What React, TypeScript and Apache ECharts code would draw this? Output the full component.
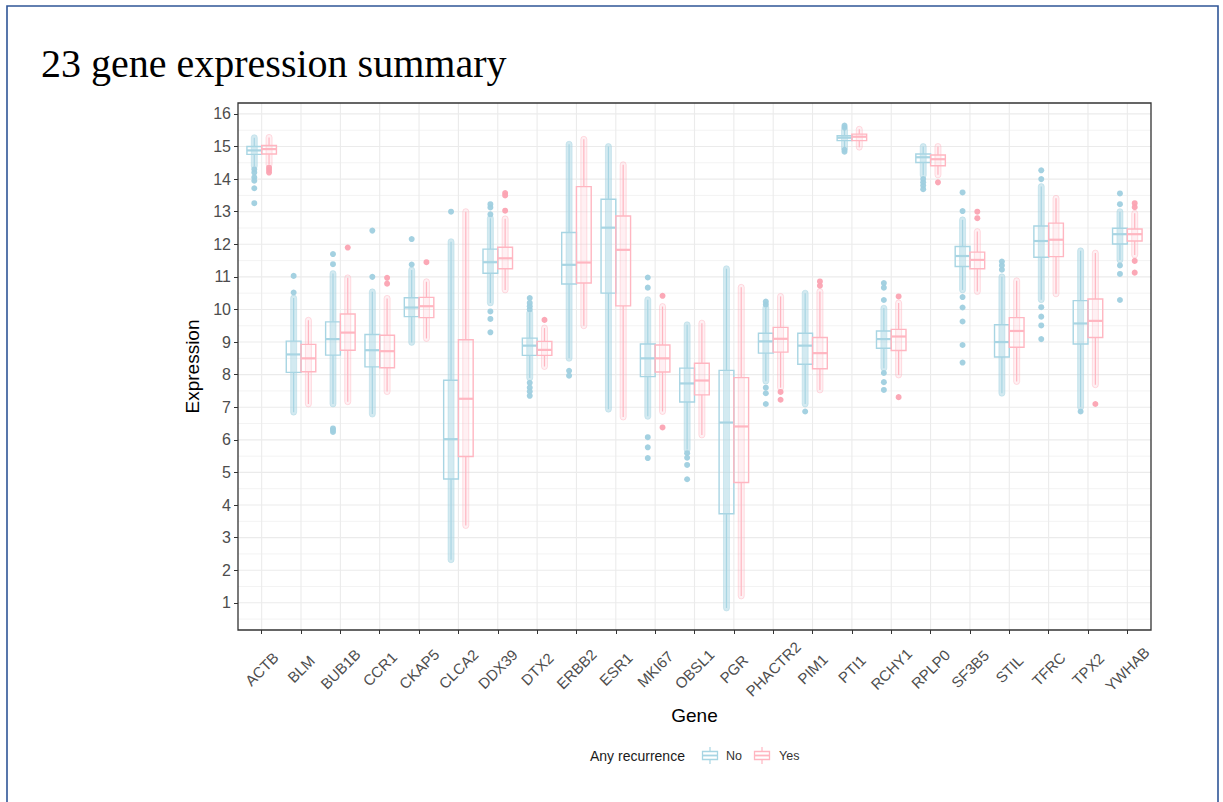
import React, { useEffect, useRef } from "react";
import * as echarts from "echarts";

const genes = ["ACTB","BLM","BUB1B","CCR1","CKAP5","CLCA2","DDX39","DTX2","ERBB2","ESR1","MKI67","OBSL1","PGR","PHACTR2","PIM1","PTI1","RCHY1","RPLP0","SF3B5","STIL","TFRC","TPX2","YWHAB"];

const yTicks = [1,2,3,4,5,6,7,8,9,10,11,12,13,14,15,16];
const yMinor = [0.5,1.5,2.5,3.5,4.5,5.5,6.5,7.5,8.5,9.5,10.5,11.5,12.5,13.5,14.5,15.5];

// [lower whisker, Q1, median, Q3, upper whisker]
const noStats = [
  [14.40,14.76,14.88,15.00,15.27],
  [6.85,8.07,8.62,9.03,10.35],
  [7.10,8.60,9.09,9.62,11.10],
  [6.79,8.24,8.75,9.23,10.54],
  [8.99,9.78,10.06,10.36,11.21],
  [2.32,4.80,6.02,7.83,12.08],
  [10.20,11.11,11.45,11.85,12.80],
  [7.90,8.59,8.89,9.12,9.90],
  [8.50,10.78,11.37,12.36,15.07],
  [6.94,10.50,12.51,13.38,15.00],
  [6.72,7.94,8.50,8.94,10.30],
  [5.70,7.16,7.73,8.20,9.53],
  [0.84,3.73,6.53,8.13,11.25],
  [7.80,8.66,9.02,9.27,10.05],
  [7.10,8.32,8.89,9.27,10.50],
  [14.95,15.18,15.27,15.33,15.52],
  [8.20,8.81,9.09,9.34,10.04],
  [14.12,14.51,14.67,14.77,15.00],
  [10.60,11.32,11.64,11.93,12.75],
  [7.43,8.54,9.00,9.53,11.00],
  [10.30,11.60,12.10,12.56,13.77],
  [7.00,8.94,9.57,10.27,11.80],
  [11.52,12.01,12.31,12.49,13.00],
];

const yesStats = [
  [14.45,14.77,14.92,15.03,15.28],
  [7.10,8.09,8.50,8.93,9.67],
  [7.17,8.75,9.29,9.86,10.97],
  [7.48,8.21,8.72,9.21,10.34],
  [9.11,9.75,10.10,10.37,10.85],
  [3.37,5.49,7.26,9.07,13.00],
  [10.60,11.25,11.57,11.91,12.78],
  [8.25,8.59,8.76,9.02,9.43],
  [9.50,10.81,11.44,13.77,15.22],
  [6.70,10.11,11.83,12.87,14.44],
  [6.87,8.08,8.50,8.91,10.09],
  [6.15,7.38,7.82,8.35,9.58],
  [1.21,4.69,6.41,7.91,10.68],
  [7.60,8.69,9.10,9.45,10.40],
  [7.53,8.18,8.66,9.14,10.55],
  [14.98,15.18,15.30,15.38,15.53],
  [7.99,8.74,9.17,9.39,10.20],
  [14.13,14.41,14.61,14.74,15.00],
  [10.55,11.25,11.52,11.76,12.39],
  [7.79,8.84,9.34,9.75,10.88],
  [10.48,11.62,12.14,12.65,13.41],
  [7.69,9.14,9.65,10.32,11.73],
  [11.67,12.10,12.31,12.47,12.95],
];

const noOutliers = [
  [14.3,14.2,14.05,13.95,13.72,13.26],
  [10.52,11.03],
  [11.39,11.7,6.35,6.3,6.24],
  [11.0,12.42],
  [11.38,12.16],
  [13.0],
  [12.92,13.13,13.23,9.94,9.71,9.3],
  [10.0,10.1,10.2,10.35,7.75,7.6,7.48,7.35],
  [8.12,7.97],
  [],
  [10.67,10.98,6.08,5.77,5.44],
  [5.59,5.45,5.23,4.79],
  [],
  [10.15,10.24,7.6,7.43,7.1],
  [6.87],
  [15.58,15.64,14.9,14.84],
  [10.29,10.67,10.81,8.05,7.77,7.53],
  [14.0,13.9,13.8,13.69],
  [13.02,13.59,10.38,10.06,9.63,8.91,8.37],
  [11.22,11.35,11.47],
  [14.0,14.27,10.07,9.78,9.51,9.09],
  [6.87],
  [13.23,13.56,11.35,11.09,10.29],
];

const yesOutliers = [
  [14.35,14.28,14.2],
  [],
  [11.9],
  [10.79,10.97],
  [11.45],
  [],
  [13.03,13.5,13.57],
  [9.68],
  [],
  [],
  [10.42,6.38],
  [],
  [],
  [7.47,7.23],
  [10.73,10.86],
  [],
  [10.4,7.31],
  [13.9],
  [12.8,13.0],
  [],
  [],
  [7.1],
  [13.14,13.26,11.49,11.13],
];

const NO_COLOR = "#a8d5e3";
const YES_COLOR = "#ffb6c1";
const NO_DOT = "#9fcfdf";
const YES_DOT = "#fba3b2";

const DODGE = 0.1875;
const BOX_W = 0.375;

function boxSeries(name: string, stats: number[][], offset: number, color: string, colFill: number, colStroke: number) {
  return {
    type: "custom",
    name,
    z: 3,
    clip: false,
    data: stats.map((s, i) => [i, ...s]),
    encode: { x: 0, y: [1, 2, 3, 4, 5] },
    renderItem: (params: any, api: any) => {
      const i = api.value(0);
      const bw = api.size([1, 0])[0];
      const pLow = api.coord([i, api.value(1)]);
      const yQ1 = api.coord([i, api.value(2)])[1];
      const yMed = api.coord([i, api.value(3)])[1];
      const yQ3 = api.coord([i, api.value(4)])[1];
      const yHigh = api.coord([i, api.value(5)])[1];
      const yLow = pLow[1];
      const cx = pLow[0] + offset * bw;
      const w = bw * BOX_W;
      return {
        type: "group",
        children: [
          {
            type: "rect",
            shape: { x: cx - 3, y: yHigh - 3, width: 6, height: yLow - yHigh + 6, r: 3 },
            style: { fill: color, opacity: colFill, stroke: "none" },
          },
          {
            type: "rect",
            shape: { x: cx - 3, y: yHigh - 3, width: 6, height: yLow - yHigh + 6, r: 3 },
            style: { fill: "none", stroke: color, lineWidth: 1, opacity: colStroke },
          },
          { type: "line", shape: { x1: cx, y1: yHigh, x2: cx, y2: yQ3 }, style: { stroke: color, lineWidth: 1.2 } },
          { type: "line", shape: { x1: cx, y1: yQ1, x2: cx, y2: yLow }, style: { stroke: color, lineWidth: 1.2 } },
          {
            type: "rect",
            shape: { x: cx - w / 2, y: yQ3, width: w, height: yQ1 - yQ3 },
            style: { fill: "none", stroke: color, lineWidth: 1.4 },
          },
          { type: "line", shape: { x1: cx - w / 2, y1: yMed, x2: cx + w / 2, y2: yMed }, style: { stroke: color, lineWidth: 2.2 } },
        ],
      };
    },
  };
}

function outlierSeries(name: string, outs: number[][], offset: number, color: string) {
  const data: number[][] = [];
  outs.forEach((arr, i) => arr.forEach((v) => data.push([i, v])));
  return {
    type: "custom",
    name: name + " outliers",
    z: 4,
    clip: false,
    data,
    encode: { x: 0, y: 1 },
    renderItem: (params: any, api: any) => {
      const bw = api.size([1, 0])[0];
      const p = api.coord([api.value(0), api.value(1)]);
      return {
        type: "circle",
        shape: { cx: p[0] + offset * bw, cy: p[1], r: 3 },
        style: { fill: color, opacity: 0.95 },
      };
    },
  };
}

function legendKey(x: number, y: number, color: string) {
  return {
    type: "group",
    x,
    y,
    children: [
      { type: "rect", shape: { x: 0, y: 0, width: 18, height: 17 }, style: { fill: "#ffffff", stroke: "none" } },
      { type: "line", shape: { x1: 9, y1: 0, x2: 9, y2: 4.5 }, style: { stroke: color, lineWidth: 1.2 } },
      { type: "line", shape: { x1: 9, y1: 12.5, x2: 9, y2: 17 }, style: { stroke: color, lineWidth: 1.2 } },
      { type: "rect", shape: { x: 1.5, y: 4.5, width: 15, height: 8 }, style: { fill: "none", stroke: color, lineWidth: 1.3 } },
      { type: "line", shape: { x1: 1.5, y1: 8.5, x2: 16.5, y2: 8.5 }, style: { stroke: color, lineWidth: 1.8 } },
    ],
  };
}

export default function App() {
  const ref = useRef<HTMLDivElement>(null);
  useEffect(() => {
    document.body.style.margin = "0";
    if (!ref.current) return;
    const chart = echarts.init(ref.current, undefined, { renderer: "svg" });
    const gridLeft = 242;
    const gridTop = 103;
    const gridWidth = 905;
    const gridHeight = 527;
    const axisFont = "Liberation Sans";
    chart.setOption({
      animation: false,
      backgroundColor: "#ffffff",
      title: {
        text: "23 gene expression summary",
        left: 41,
        top: 43,
        padding: 0,
        textStyle: { fontFamily: "Liberation Serif", fontSize: 40, fontWeight: "normal", color: "#000000" },
      },
      grid: { left: gridLeft, top: gridTop, width: gridWidth, height: gridHeight, containLabel: false },
      xAxis: {
        type: "category",
        data: genes,
        boundaryGap: true,
        axisLine: { show: false },
        axisTick: { show: true, alignWithLabel: true, interval: 0, length: 4, lineStyle: { color: "#333333", width: 1 } },
        axisLabel: {
          interval: 0,
          rotate: 45,
          align: "center",
          verticalAlign: "middle",
          margin: 39,
          fontSize: 15,
          color: "#4d4d4d",
          fontFamily: axisFont,
        },
        splitLine: { show: false },
        name: "Gene",
        nameLocation: "middle",
        nameGap: 73,
        nameTextStyle: { fontSize: 19, color: "#000000", fontFamily: axisFont },
      },
      yAxis: {
        type: "value",
        min: 0.165,
        max: 16.335,
        offset: 4,
        axisLine: { show: false },
        axisTick: { show: true, length: 4, customValues: yTicks, lineStyle: { color: "#333333", width: 1 } },
        axisLabel: { customValues: yTicks, fontSize: 16, color: "#4d4d4d", margin: 7, fontFamily: axisFont },
        splitLine: { show: false },
        name: "Expression",
        nameLocation: "middle",
        nameGap: 33,
        nameTextStyle: { fontSize: 19, color: "#000000", fontFamily: axisFont },
      },
      series: [
        {
          type: "custom",
          name: "hgrid",
          z: 1,
          clip: false,
          silent: true,
          data: [...yMinor.map((v) => [0, v, 0]), ...yTicks.map((v) => [0, v, 1])],
          encode: { x: 0, y: 1 },
          renderItem: (params: any, api: any) => {
            const cs = params.coordSys;
            const bw = api.size([1, 0])[0];
            const y = api.coord([0, api.value(1)])[1];
            const major = api.value(2) === 1;
            return {
              type: "line",
              shape: { x1: cs.x - 0.1 * bw, y1: y, x2: cs.x + cs.width + 0.1 * bw, y2: y },
              style: { stroke: major ? "#ebebeb" : "#f3f3f3", lineWidth: major ? 1.1 : 1 },
            };
          },
        },
        {
          type: "custom",
          name: "vgrid",
          z: 1,
          clip: false,
          silent: true,
          data: genes.map((g, i) => [i, 8]),
          encode: { x: 0, y: 1 },
          renderItem: (params: any, api: any) => {
            const cs = params.coordSys;
            const x = api.coord([api.value(0), 8])[0];
            return {
              type: "line",
              shape: { x1: x, y1: cs.y, x2: x, y2: cs.y + cs.height },
              style: { stroke: "#ebebeb", lineWidth: 1.1 },
            };
          },
        },
        boxSeries("No", noStats, -DODGE, NO_COLOR, 0.5, 0.45),
        boxSeries("Yes", yesStats, DODGE, YES_COLOR, 0.2, 0.45),
        outlierSeries("No", noOutliers, -DODGE, NO_DOT),
        outlierSeries("Yes", yesOutliers, DODGE, YES_DOT),
      ],
      graphic: [
        {
          type: "rect",
          z: 100,
          silent: true,
          shape: { x: 7, y: 6, width: 1211, height: 900 },
          style: { fill: "none", stroke: "#2f5597", lineWidth: 1.6 },
        },
        {
          type: "rect",
          z: 100,
          silent: true,
          shape: { x: 238, y: 103, width: 913, height: 527 },
          style: { fill: "none", stroke: "#333333", lineWidth: 1.3 },
        },
        {
          type: "text",
          x: 590,
          y: 756,
          style: { text: "Any recurrence", fontSize: 14, fontFamily: axisFont, fill: "#1a1a1a", verticalAlign: "middle" },
        },
        legendKey(701, 747, NO_COLOR),
        {
          type: "text",
          x: 726,
          y: 756,
          style: { text: "No", fontSize: 12.5, fontFamily: axisFont, fill: "#333333", verticalAlign: "middle" },
        },
        legendKey(753, 747, YES_COLOR),
        {
          type: "text",
          x: 779,
          y: 756,
          style: { text: "Yes", fontSize: 12.5, fontFamily: axisFont, fill: "#333333", verticalAlign: "middle" },
        },
      ],
    });
    return () => chart.dispose();
  }, []);
  return <div ref={ref} style={{ position: "absolute", left: 0, top: 0, width: 1223, height: 802 }} />;
}
